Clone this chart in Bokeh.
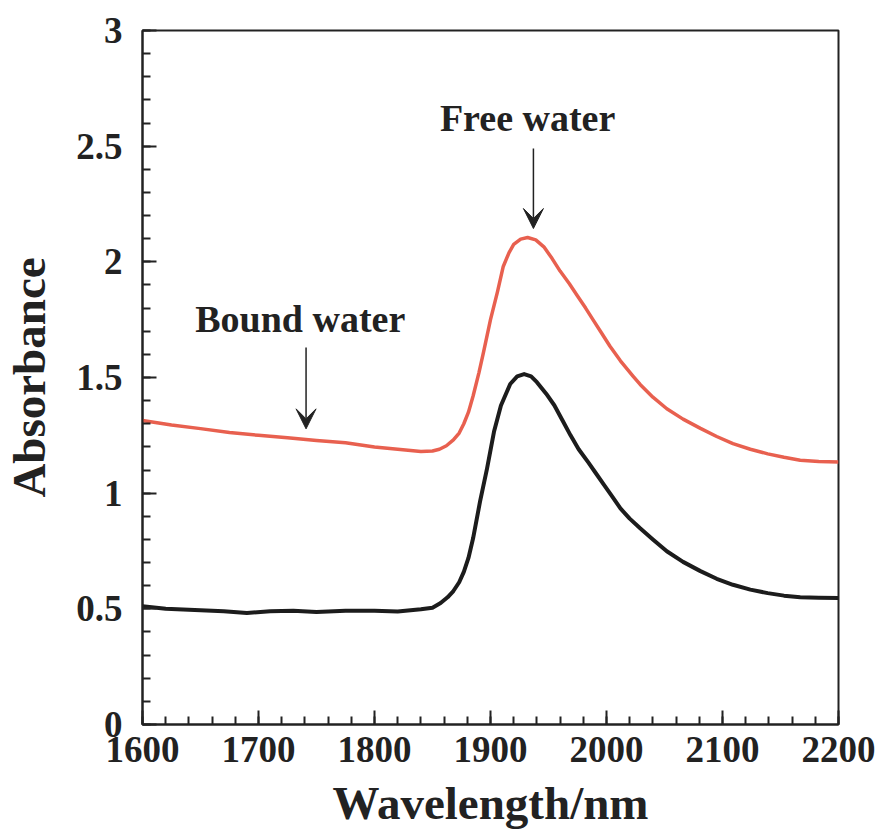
from bokeh.plotting import figure
from bokeh.models import (Range1d, SingleIntervalTicker, NumeralTickFormatter,
                          Arrow, VeeHead, Label)
from bokeh.embed import file_html
from bokeh.resources import INLINE

# NIR absorbance spectra (wavelength in nm)
wl_red = [1600, 1625, 1650, 1675, 1700, 1725, 1750, 1775, 1800, 1820, 1840, 1850,
          1856, 1862, 1868, 1873, 1877, 1881, 1885, 1890, 1894, 1900, 1906, 1911, 1916,
          1920, 1926, 1932, 1939, 1946, 1953, 1960, 1968, 1975, 1982, 1989, 1996, 2003,
          2012, 2023, 2029, 2040, 2052, 2066, 2081, 2095, 2109, 2124, 2139, 2153, 2167,
          2183, 2200]
abs_red = [1.314, 1.295, 1.279, 1.262, 1.250, 1.240, 1.228, 1.218, 1.200, 1.190, 1.180, 1.182,
           1.190, 1.205, 1.230, 1.26, 1.30, 1.35, 1.42, 1.52, 1.61, 1.75, 1.87, 1.98, 2.04,
           2.075, 2.098, 2.105, 2.095, 2.065, 2.015, 1.96, 1.905, 1.852, 1.80, 1.745, 1.69, 1.635,
           1.572, 1.505, 1.470, 1.415, 1.365, 1.32, 1.28, 1.245, 1.214, 1.19, 1.17, 1.155, 1.142,
           1.137, 1.135]

wl_black = [1600, 1620, 1650, 1670, 1690, 1710, 1730, 1750, 1775, 1800, 1820, 1840, 1850,
            1857, 1863, 1868, 1873, 1877, 1881, 1885, 1891, 1897, 1903, 1909, 1917, 1923,
            1929, 1935, 1940, 1948, 1955, 1962, 1969, 1976, 1984, 1991, 1998, 2005, 2012,
            2020, 2029, 2040, 2052, 2066, 2081, 2095, 2109, 2124, 2139, 2153, 2167, 2183, 2200]
abs_black = [0.511, 0.500, 0.494, 0.490, 0.482, 0.490, 0.492, 0.486, 0.492, 0.492, 0.488, 0.498, 0.505,
             0.525, 0.55, 0.577, 0.615, 0.66, 0.72, 0.805, 0.964, 1.106, 1.265, 1.379, 1.472, 1.505,
             1.515, 1.505, 1.48, 1.43, 1.38, 1.315, 1.25, 1.19, 1.135, 1.085, 1.035, 0.985, 0.934,
             0.89, 0.848, 0.80, 0.749, 0.703, 0.663, 0.630, 0.604, 0.583, 0.568, 0.557, 0.550, 0.548, 0.547]

FONT = "Liberation Serif"
INK = "#222222"

p = figure(width=882, height=831, output_backend="svg", toolbar_location=None,
           x_range=Range1d(1600, 2200), y_range=Range1d(0, 3),
           min_border_left=142, min_border_right=44, min_border_top=30, min_border_bottom=104,
           background_fill_color="white", border_fill_color="white")

p.grid.visible = False
p.outline_line_color = INK
p.outline_line_width = 2

p.line(wl_red, abs_red, line_color="#e8604f", line_width=3.5, line_join="round")
p.line(wl_black, abs_black, line_color="#1c1c1c", line_width=4, line_join="round")

p.xaxis.ticker = SingleIntervalTicker(interval=100, num_minor_ticks=5)
p.yaxis.ticker = SingleIntervalTicker(interval=0.5, num_minor_ticks=5)
p.yaxis.formatter = NumeralTickFormatter(format="0.[0]")

for ax in (p.xaxis[0], p.yaxis[0]):
    ax.axis_line_color = INK
    ax.axis_line_width = 2
    ax.major_tick_in = 14
    ax.major_tick_out = 0
    ax.minor_tick_in = 8
    ax.minor_tick_out = 0
    ax.major_tick_line_width = 2
    ax.minor_tick_line_width = 2
    ax.major_tick_line_color = INK
    ax.minor_tick_line_color = INK
    ax.major_label_text_font = FONT
    ax.major_label_text_font_style = "bold"
    ax.major_label_text_font_size = "37px"
    ax.major_label_text_color = INK
    ax.axis_label_text_font = FONT
    ax.axis_label_text_font_style = "bold"
    ax.axis_label_text_font_size = "47px"
    ax.axis_label_text_color = INK

p.xaxis.axis_label = "Wavelength/nm"
p.yaxis.axis_label = "Absorbance"
p.xaxis.major_label_standoff = 12
p.yaxis.major_label_standoff = 20
p.xaxis.axis_label_standoff = 12
p.yaxis.axis_label_standoff = 18

# band annotations with arrows
p.add_layout(Label(x=1932, y=2.62, text="Free water", text_align="center",
                   text_baseline="alphabetic", text_font=FONT, text_font_style="bold",
                   text_font_size="38px", text_color=INK))
p.add_layout(Label(x=1736, y=1.755, text="Bound water", text_align="center",
                   text_baseline="alphabetic", text_font=FONT, text_font_style="bold",
                   text_font_size="38px", text_color=INK))

p.add_layout(Arrow(x_start=1937, y_start=2.49, x_end=1937, y_end=2.144,
                   line_width=1.5, line_color=INK,
                   end=VeeHead(size=20, fill_color=INK, line_color=INK)))
p.add_layout(Arrow(x_start=1741, y_start=1.63, x_end=1741, y_end=1.278,
                   line_width=1.5, line_color=INK,
                   end=VeeHead(size=20, fill_color=INK, line_color=INK)))

open("out.html", "w").write(file_html(p, INLINE))
